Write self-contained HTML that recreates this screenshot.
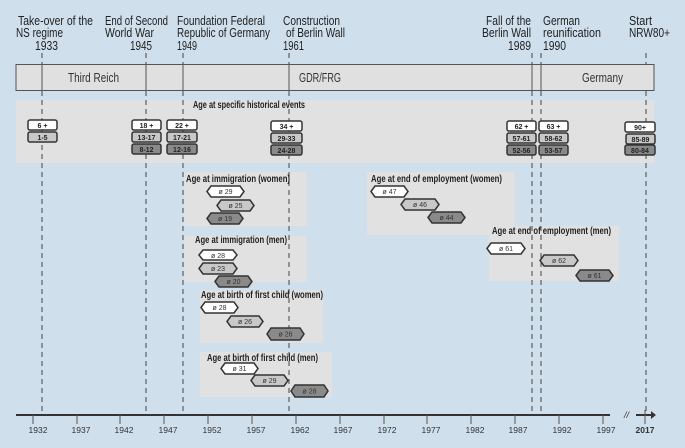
<!DOCTYPE html>
<html><head><meta charset="utf-8"><style>
html,body{margin:0;padding:0;background:#cfe0ec;}
svg{display:block;font-family:"Liberation Sans",sans-serif;}
</style></head><body>
<svg width="685" height="448" viewBox="0 0 685 448" xmlns="http://www.w3.org/2000/svg">
<rect width="685" height="448" fill="#cfe0ec"/>
<!-- top labels -->
<g font-size="12.5" fill="#222">
<text x="18" y="25" textLength="75" lengthAdjust="spacingAndGlyphs">Take-over of the</text>
<text x="16" y="37" textLength="47" lengthAdjust="spacingAndGlyphs">NS regime</text>
<text x="35" y="50" textLength="23" lengthAdjust="spacingAndGlyphs">1933</text>
<text x="105" y="25" textLength="63" lengthAdjust="spacingAndGlyphs">End of Second</text>
<text x="105" y="37" textLength="49" lengthAdjust="spacingAndGlyphs">World War</text>
<text x="130" y="50" textLength="22" lengthAdjust="spacingAndGlyphs">1945</text>
<text x="177" y="25" textLength="88" lengthAdjust="spacingAndGlyphs">Foundation Federal</text>
<text x="177" y="37" textLength="93" lengthAdjust="spacingAndGlyphs">Republic of Germany</text>
<text x="177" y="50" textLength="20" lengthAdjust="spacingAndGlyphs">1949</text>
<text x="283" y="25" textLength="57" lengthAdjust="spacingAndGlyphs">Construction</text>
<text x="286" y="37" textLength="59" lengthAdjust="spacingAndGlyphs">of Berlin Wall</text>
<text x="283" y="50" textLength="21" lengthAdjust="spacingAndGlyphs">1961</text>
<text x="486" y="25" textLength="45" lengthAdjust="spacingAndGlyphs">Fall of the</text>
<text x="482" y="37" textLength="49" lengthAdjust="spacingAndGlyphs">Berlin Wall</text>
<text x="508" y="50" textLength="23" lengthAdjust="spacingAndGlyphs">1989</text>
<text x="543" y="25" textLength="37" lengthAdjust="spacingAndGlyphs">German</text>
<text x="543" y="37" textLength="58" lengthAdjust="spacingAndGlyphs">reunification</text>
<text x="543" y="50" textLength="23" lengthAdjust="spacingAndGlyphs">1990</text>
<text x="629" y="25" textLength="23" lengthAdjust="spacingAndGlyphs">Start</text>
<text x="629" y="37" textLength="41" lengthAdjust="spacingAndGlyphs">NRW80+</text>
</g>
<!-- band -->
<rect x="16" y="64.5" width="638" height="26" fill="#e0e0e0" stroke="#555" stroke-width="1"/>
<g stroke="#555" stroke-width="1">
<line x1="42" y1="64" x2="42" y2="91"/><line x1="146" y1="64" x2="146" y2="91"/><line x1="183" y1="64" x2="183" y2="91"/><line x1="289" y1="64" x2="289" y2="91"/><line x1="532" y1="64" x2="532" y2="91"/><line x1="541" y1="64" x2="541" y2="91"/>
</g>
<g font-size="12.5" fill="#333">
<text x="68" y="82" textLength="51" lengthAdjust="spacingAndGlyphs">Third Reich</text>
<text x="299" y="82" textLength="42" lengthAdjust="spacingAndGlyphs">GDR/FRG</text>
<text x="582" y="82" textLength="41" lengthAdjust="spacingAndGlyphs">Germany</text>
</g>
<!-- gray boxes -->
<g fill="#e1e1e1">
<rect x="16" y="100" width="638" height="63"/>
<rect x="184" y="172" width="123" height="54"/>
<rect x="184" y="236" width="123" height="46"/>
<rect x="367" y="172" width="148" height="63"/>
<rect x="489" y="226" width="130" height="55"/>
<rect x="200" y="290" width="123" height="53"/>
<rect x="200" y="352" width="132" height="45"/>
</g>
<!-- dashed lines -->
<g stroke="#444" stroke-width="1" stroke-dasharray="5,4">
<line x1="42" y1="53" x2="42" y2="64"/><line x1="42" y1="91" x2="42" y2="413"/>
<line x1="146" y1="53" x2="146" y2="64"/><line x1="146" y1="91" x2="146" y2="413"/>
<line x1="183" y1="53" x2="183" y2="64"/><line x1="183" y1="91" x2="183" y2="413"/>
<line x1="289" y1="53" x2="289" y2="64"/><line x1="289" y1="91" x2="289" y2="413"/>
<line x1="532" y1="53" x2="532" y2="64"/><line x1="532" y1="91" x2="532" y2="413"/>
<line x1="541" y1="53" x2="541" y2="64"/><line x1="541" y1="91" x2="541" y2="413"/>
<line x1="646" y1="53" x2="646" y2="64"/><line x1="646" y1="91" x2="646" y2="413"/>
</g>
<!-- titles -->
<g font-size="10" font-weight="bold" fill="#222">
<text x="193" y="108" textLength="112" lengthAdjust="spacingAndGlyphs">Age at specific historical events</text>
<text x="186" y="182" textLength="104" lengthAdjust="spacingAndGlyphs">Age at immigration (women)</text>
<text x="195" y="243" textLength="92" lengthAdjust="spacingAndGlyphs">Age at immigration (men)</text>
<text x="371" y="182" textLength="131" lengthAdjust="spacingAndGlyphs">Age at end of employment (women)</text>
<text x="492" y="234" textLength="119" lengthAdjust="spacingAndGlyphs">Age at end of employment (men)</text>
<text x="201" y="298" textLength="122" lengthAdjust="spacingAndGlyphs">Age at birth of first child (women)</text>
<text x="207" y="361" textLength="111" lengthAdjust="spacingAndGlyphs">Age at birth of first child (men)</text>
</g>
<!-- event boxes -->
<g font-size="7" font-weight="bold" fill="#222" text-anchor="middle" stroke-width="1.5" stroke="#333">
<g stroke="#333">
<rect x="28" y="120" width="29" height="10" rx="2" fill="#fff"/>
<rect x="28" y="132" width="29" height="10" rx="2" fill="#c8c8c8"/>
<rect x="132" y="120" width="29" height="10" rx="2" fill="#fff"/>
<rect x="132" y="132" width="29" height="10" rx="2" fill="#c8c8c8"/>
<rect x="132" y="144" width="29" height="10" rx="2" fill="#8a8a8a"/>
<rect x="167" y="120" width="30" height="10" rx="2" fill="#fff"/>
<rect x="167" y="132" width="30" height="10" rx="2" fill="#c8c8c8"/>
<rect x="167" y="144" width="30" height="10" rx="2" fill="#8a8a8a"/>
<rect x="271" y="121" width="31" height="10" rx="2" fill="#fff"/>
<rect x="271" y="133" width="31" height="10" rx="2" fill="#c8c8c8"/>
<rect x="271" y="145" width="31" height="10" rx="2" fill="#8a8a8a"/>
<rect x="507" y="121" width="29" height="10" rx="2" fill="#fff"/>
<rect x="507" y="133" width="29" height="10" rx="2" fill="#c8c8c8"/>
<rect x="507" y="145" width="29" height="10" rx="2" fill="#8a8a8a"/>
<rect x="539" y="121" width="29" height="10" rx="2" fill="#fff"/>
<rect x="539" y="133" width="29" height="10" rx="2" fill="#c8c8c8"/>
<rect x="539" y="145" width="29" height="10" rx="2" fill="#8a8a8a"/>
<rect x="625" y="122" width="30" height="10" rx="2" fill="#fff"/>
<rect x="626" y="134" width="29" height="10" rx="2" fill="#c8c8c8"/>
<rect x="625" y="145" width="30" height="10" rx="2" fill="#8a8a8a"/>
</g>
<g stroke="none">
<text x="42.5" y="128">6 +</text><text x="42.5" y="140">1-5</text>
<text x="146.5" y="128">18 +</text><text x="146.5" y="140">13-17</text><text x="146.5" y="152">8-12</text>
<text x="182" y="128">22 +</text><text x="182" y="140">17-21</text><text x="182" y="152">12-16</text>
<text x="286.5" y="129">34 +</text><text x="286.5" y="141">29-33</text><text x="286.5" y="153">24-28</text>
<text x="521.5" y="129">62 +</text><text x="521.5" y="141">57-61</text><text x="521.5" y="153">52-56</text>
<text x="553.5" y="129">63 +</text><text x="553.5" y="141">58-62</text><text x="553.5" y="153">53-57</text>
<text x="640" y="130">90+</text><text x="640.5" y="142">85-89</text><text x="640" y="153">80-84</text>
</g>
</g>
<!-- hexagons -->
<g stroke="#333" stroke-width="1.5" font-size="7" fill="#333" text-anchor="middle">
<polygon points="207,191.5 211,186 240,186 244,191.5 240,197 211,197" fill="#fff"/>
<polygon points="217,205.5 221,200 250,200 254,205.5 250,211 221,211" fill="#c8c8c8"/>
<polygon points="207,218.5 211,213 239,213 243,218.5 239,224 211,224" fill="#8a8a8a"/>
<polygon points="199,255 203,250 233,250 237,255 233,260 203,260" fill="#fff"/>
<polygon points="199,268.5 203,263 233,263 237,268.5 233,274 203,274" fill="#c8c8c8"/>
<polygon points="215,281.5 219,276 248,276 252,281.5 248,287 219,287" fill="#8a8a8a"/>
<polygon points="371,191.5 375,186 404,186 408,191.5 404,197 375,197" fill="#fff"/>
<polygon points="401,204.5 405,199 435,199 439,204.5 435,210 405,210" fill="#c8c8c8"/>
<polygon points="428,217.5 432,212 461,212 465,217.5 461,223 432,223" fill="#8a8a8a"/>
<polygon points="487,248.5 491,243 521,243 525,248.5 521,254 491,254" fill="#fff"/>
<polygon points="540,260.5 544,255 574,255 578,260.5 574,266 544,266" fill="#c8c8c8"/>
<polygon points="576,275.5 580,270 609,270 613,275.5 609,281 580,281" fill="#8a8a8a"/>
<polygon points="201,307.5 205,302 234,302 238,307.5 234,313 205,313" fill="#fff"/>
<polygon points="227,321.5 231,316 259,316 263,321.5 259,327 231,327" fill="#c8c8c8"/>
<polygon points="267,334 271,328 300,328 304,334 300,340 271,340" fill="#8a8a8a"/>
<polygon points="221,368.5 225,363 254,363 258,368.5 254,374 225,374" fill="#fff"/>
<polygon points="251,380.5 255,375 284,375 288,380.5 284,386 255,386" fill="#c8c8c8"/>
<polygon points="291,391 295,385 324,385 328,391 324,397 295,397" fill="#8a8a8a"/>
<g stroke="none">
<text x="225.5" y="194">ø 29</text><text x="235.5" y="208">ø 25</text><text x="225" y="221">ø 19</text>
<text x="218" y="258">ø 28</text><text x="218" y="271">ø 23</text><text x="233.5" y="284">ø 20</text>
<text x="389.5" y="194">ø 47</text><text x="420" y="207">ø 46</text><text x="446.5" y="220">ø 44</text>
<text x="506" y="251">ø 61</text><text x="559" y="263">ø 62</text><text x="594.5" y="278">ø 61</text>
<text x="219.5" y="310">ø 28</text><text x="245" y="324">ø 26</text><text x="285.5" y="336.5">ø 26</text>
<text x="239.5" y="371">ø 31</text><text x="269.5" y="383">ø 29</text><text x="309.5" y="393.5">ø 28</text>
</g>
</g>
<!-- axis -->
<line x1="16" y1="415" x2="610" y2="415" stroke="#333" stroke-width="2"/>
<line x1="636" y1="415" x2="652" y2="415" stroke="#333" stroke-width="2"/>
<polygon points="651,411 656,415 651,419" fill="#333"/>
<text x="624" y="418" font-size="9" font-style="italic" fill="#333">//</text>
<g stroke="#555" stroke-width="1">
<line x1="33" y1="415" x2="33" y2="424"/><line x1="77" y1="415" x2="77" y2="424"/><line x1="120" y1="415" x2="120" y2="424"/><line x1="164" y1="415" x2="164" y2="424"/><line x1="208" y1="415" x2="208" y2="424"/><line x1="252" y1="415" x2="252" y2="424"/><line x1="296" y1="415" x2="296" y2="424"/><line x1="340" y1="415" x2="340" y2="424"/><line x1="384" y1="415" x2="384" y2="424"/><line x1="427" y1="415" x2="427" y2="424"/><line x1="471" y1="415" x2="471" y2="424"/><line x1="515" y1="415" x2="515" y2="424"/><line x1="559" y1="415" x2="559" y2="424"/><line x1="603" y1="415" x2="603" y2="424"/><line x1="645" y1="410" x2="645" y2="424"/>
</g>
<g font-size="8.5" fill="#333" text-anchor="middle">
<text x="38" y="433">1932</text><text x="81" y="433">1937</text><text x="124" y="433">1942</text><text x="168" y="433">1947</text><text x="212" y="433">1952</text><text x="256" y="433">1957</text><text x="300" y="433">1962</text><text x="343" y="433">1967</text><text x="387" y="433">1972</text><text x="431" y="433">1977</text><text x="475" y="433">1982</text><text x="518" y="433">1987</text><text x="562" y="433">1992</text><text x="606" y="433">1997</text><text x="645" y="433" font-weight="bold">2017</text>
</g>
</svg>
</body></html>
